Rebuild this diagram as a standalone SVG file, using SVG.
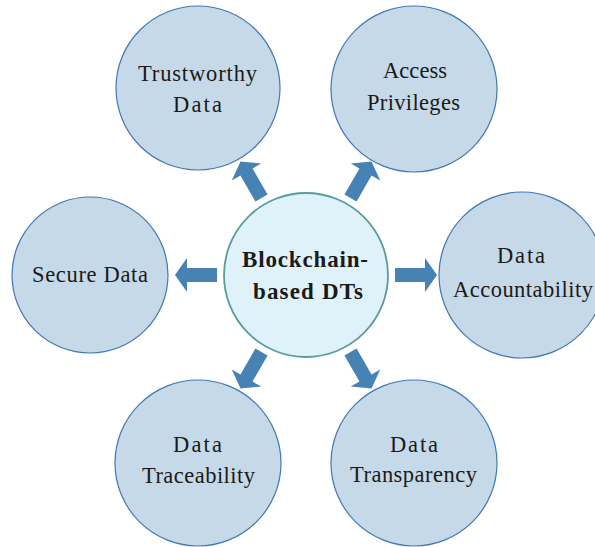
<svg xmlns="http://www.w3.org/2000/svg" width="595" height="547" viewBox="0 0 595 547">
<defs>
<style>
.outer{fill:#C6D9E8;stroke:#3F78B4;stroke-width:1.2}
.center{fill:#E0F2F9;stroke:#5A9C9E;stroke-width:1.8}
.t{font-family:"Liberation Serif","Times New Roman",serif;font-size:22.5px;fill:#1a1a1a;text-anchor:middle}
.b{font-weight:bold;font-size:23px}
.arrow{fill:#4682B4}
</style>
<path id="arr" d="M89,-7 L119,-7 L119,-17 L131,0 L119,17 L119,7 L89,7 Z"/>
</defs>
<rect width="595" height="547" fill="#ffffff"/>
<g id="connectors" class="arrow">
<use href="#arr" transform="translate(306,275)"/>
<use href="#arr" transform="translate(306,275) rotate(180)"/>
<use href="#arr" transform="translate(306,275) rotate(-60)"/>
<use href="#arr" transform="translate(306,275) rotate(-120)"/>
<use href="#arr" transform="translate(306,275) rotate(60)"/>
<use href="#arr" transform="translate(306,275) rotate(120)"/>
</g>
<g id="node-center">
<circle class="center" cx="306" cy="275" r="82"/>
<text class="t b" x="305" y="267" textLength="126" lengthAdjust="spacing">Blockchain-</text>
<text class="t b" x="308" y="299" textLength="110" lengthAdjust="spacing">based DTs</text>
</g>
<g id="node-trustworthy">
<circle class="outer" cx="198" cy="88" r="82"/>
<text class="t" x="197.5" y="81" textLength="119" lengthAdjust="spacing">Trustworthy</text>
<text class="t" x="197.5" y="112" textLength="49" lengthAdjust="spacing">Data</text>
</g>
<g id="node-access">
<circle class="outer" cx="414" cy="89" r="83"/>
<text class="t" x="415" y="78" textLength="64" lengthAdjust="spacing">Access</text>
<text class="t" x="413.5" y="110" textLength="93" lengthAdjust="spacing">Privileges</text>
</g>
<g id="node-secure">
<circle class="outer" cx="90" cy="275" r="78"/>
<text class="t" x="90" y="282" textLength="116" lengthAdjust="spacing">Secure Data</text>
</g>
<g id="node-accountability">
<circle class="outer" cx="522" cy="275" r="83"/>
<text class="t" x="521" y="263" textLength="48" lengthAdjust="spacing">Data</text>
<text class="t" x="523" y="297" textLength="140" lengthAdjust="spacing">Accountability</text>
</g>
<g id="node-traceability">
<circle class="outer" cx="198" cy="463" r="83"/>
<text class="t" x="197.5" y="452" textLength="49" lengthAdjust="spacing">Data</text>
<text class="t" x="198.5" y="483" textLength="113" lengthAdjust="spacing">Traceability</text>
</g>
<g id="node-transparency">
<circle class="outer" cx="414" cy="463" r="83"/>
<text class="t" x="414" y="452" textLength="48" lengthAdjust="spacing">Data</text>
<text class="t" x="413.5" y="482" textLength="127" lengthAdjust="spacing">Transparency</text>
</g>
</svg>
